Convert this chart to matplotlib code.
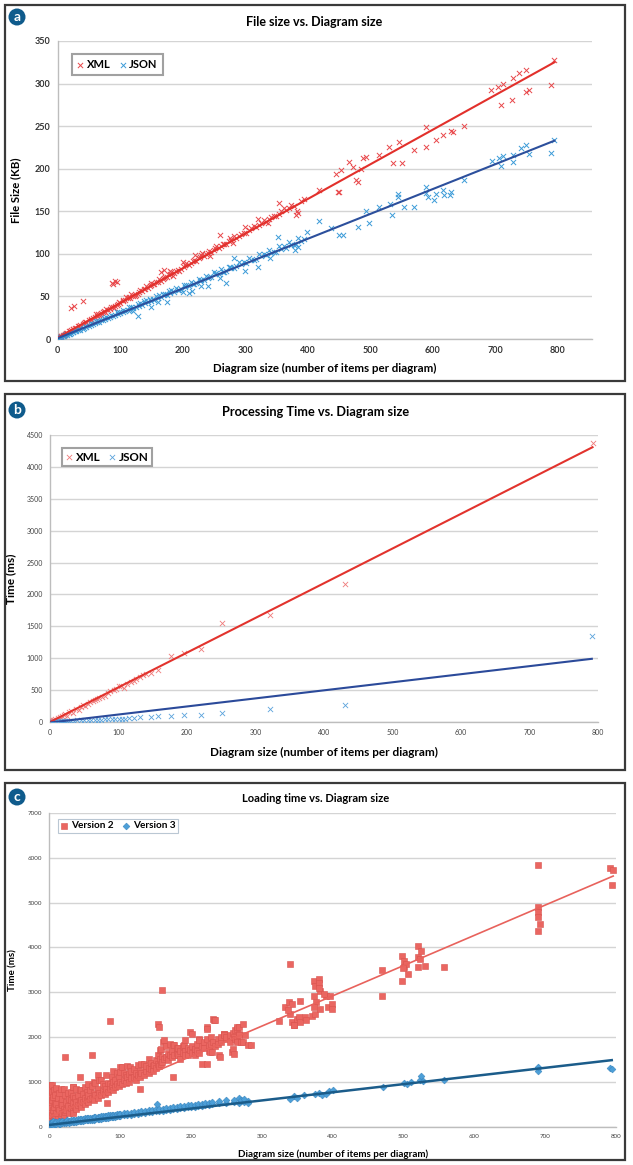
import numpy as np
import matplotlib
matplotlib.use('Agg')
from matplotlib import pyplot as plt
from matplotlib.patches import Rectangle

plt.rcParams['font.family'] = ['Lato', 'DejaVu Sans']

W, H = 633, 1165

# ---- (a) file size vs diagram size: (items, KB) ----
xml_size = [
    (2, 1.8), (4, 2.9), (6, 3.4), (8, 4.6), (10, 5.1), (12, 6.3), (15, 7.0), (18, 8.9), (20, 9.4), (22, 10.6),
    (25, 11.2), (28, 12.9), (30, 13.1), (33, 14.8), (36, 16.2), (40, 17.1), (43, 19.0), (46, 19.8), (50, 21.9), (53, 22.4),
    (56, 24.6), (60, 25.3), (63, 27.4), (66, 28.1), (70, 30.2), (73, 31.5), (76, 32.1), (80, 34.6), (84, 35.2), (88, 37.9),
    (92, 38.3), (96, 41.0), (100, 42.2), (104, 44.1), (108, 45.3), (112, 47.6), (116, 48.2), (120, 51.0), (125, 52.1), (130, 55.3),
    (135, 56.4), (140, 59.2), (145, 60.1), (150, 63.5), (155, 64.2), (160, 67.3), (165, 68.0), (170, 71.6), (175, 72.4), (180, 76.1),
    (186, 77.5), (192, 81.2), (198, 82.0), (204, 86.4), (210, 87.1), (216, 91.3), (222, 92.0), (228, 96.2), (234, 97.4), (240, 101.0),
    (246, 102.1), (252, 106.4), (258, 107.2), (264, 111.5), (270, 112.0), (278, 116.8), (286, 118.2), (294, 123.5), (302, 124.9), (310, 130.1),
    (318, 131.0), (326, 136.2), (334, 137.5), (342, 143.0), (350, 144.2), (358, 150.3), (366, 151.0), (374, 157.2), (382, 146.0), (390, 162.0),
    (5, 3.5), (14, 7.2), (24, 11.8), (34, 15.1), (44, 19.5), (54, 23.9), (64, 28.8), (74, 32.9), (85, 37.4), (95, 40.1),
    (105, 45.8), (115, 49.9), (128, 53.4), (138, 58.9), (148, 62.0), (158, 66.9), (168, 70.2), (178, 75.0), (190, 79.6), (202, 84.9),
    (214, 89.1), (226, 95.0), (238, 99.8), (250, 104.9), (262, 109.0), (274, 115.3), (290, 121.0), (306, 127.9), (322, 134.2), (338, 141.1),
    (354, 147.0), (370, 154.0), (385, 148.5), (395, 165.0),
    (62, 29.5), (78, 35.5), (98, 43.9), (118, 52.8), (132, 57.0), (142, 62.8), (152, 65.0), (162, 70.9), (172, 73.0), (182, 78.9),
    (194, 80.0), (206, 89.5), (218, 92.5), (230, 98.9), (242, 103.5), (254, 108.9), (266, 112.0), (276, 118.5), (282, 120.9), (298, 125.0),
    (314, 132.5), (330, 139.9), (346, 145.0), (362, 153.9), (378, 156.0), (70, 27.9), (90, 36.0), (124, 50.0), (184, 74.0), (244, 98.0),
    (280, 113.0), (336, 136.0),
    (110, 49.0), (150, 66.0), (180, 80.0), (200, 90.0), (220, 99.0), (231, 101.0), (260, 122.0), (300, 132.0), (320, 141.0), (354, 160.0),
    (383, 150.0), (165, 78.5), (170, 80.5),
    (21, 36), (27, 39), (41, 45), (87, 66), (92, 68), (95, 67), (89, 65),
    (419, 175), (445, 194), (449, 173), (451, 173), (454, 198), (467, 208), (472, 202), (478, 187), (480, 184), (486, 200),
    (488, 212), (494, 214), (515, 216), (531, 225), (536, 207), (547, 231), (551, 207), (571, 222), (589, 249), (590, 226),
    (606, 234), (616, 240), (630, 244), (632, 243), (651, 250), (694, 292), (704, 296), (710, 275), (712, 300), (727, 281),
    (728, 307), (739, 312), (749, 290), (750, 316), (755, 292), (790, 298), (795, 328),
]
json_size = [
    (2, 1.2), (4, 1.9), (6, 2.3), (8, 3.1), (10, 3.6), (12, 4.2), (15, 5.0), (18, 6.1), (20, 6.4), (22, 7.3),
    (25, 7.9), (28, 9.0), (30, 9.2), (33, 10.4), (36, 11.1), (40, 12.2), (43, 13.5), (46, 14.0), (50, 15.6), (53, 16.2),
    (56, 17.5), (60, 18.3), (63, 19.8), (66, 20.1), (70, 21.9), (73, 22.4), (76, 23.5), (80, 24.6), (84, 25.4), (88, 27.1),
    (92, 27.9), (96, 29.5), (100, 30.2), (104, 31.8), (108, 32.4), (112, 34.1), (116, 34.6), (120, 36.3), (125, 37.5), (130, 39.2),
    (135, 40.1), (140, 42.3), (145, 43.0), (150, 45.2), (155, 46.1), (160, 48.3), (165, 49.0), (170, 51.2), (175, 52.0), (180, 54.1),
    (186, 55.3), (192, 57.8), (198, 58.6), (204, 61.4), (210, 62.3), (216, 64.8), (222, 65.5), (228, 68.4), (234, 69.1), (240, 72.0),
    (246, 72.8), (252, 75.9), (258, 76.5), (264, 79.2), (270, 80.1), (278, 83.0), (286, 85.2), (294, 88.1), (302, 89.0), (310, 92.5),
    (318, 93.4), (326, 97.0), (334, 98.1), (342, 101.5), (350, 102.4), (358, 106.0), (366, 107.1), (374, 110.8), (382, 112.0), (390, 115.2),
    (5, 2.9), (14, 5.3), (24, 8.5), (34, 11.8), (44, 15.2), (54, 18.6), (64, 21.0), (74, 24.4), (85, 27.9), (95, 31.5),
    (105, 34.6), (115, 37.2), (128, 40.8), (138, 44.5), (148, 47.0), (158, 50.3), (168, 53.4), (178, 56.8), (190, 60.2), (202, 63.1),
    (214, 67.3), (226, 70.1), (238, 74.2), (250, 78.4), (262, 82.0), (274, 85.1), (290, 90.3), (306, 95.2), (322, 99.8), (338, 104.6),
    (354, 109.1), (370, 114.5), (385, 119.0), (395, 117.2),
    (62, 20.8), (78, 25.6), (98, 31.8), (118, 37.5), (132, 41.9), (142, 45.3), (152, 46.4), (162, 51.5), (172, 52.5), (182, 57.1),
    (194, 58.0), (206, 63.8), (218, 65.1), (230, 69.8), (242, 72.5), (254, 77.8), (266, 79.0), (276, 84.4), (282, 83.0), (298, 90.8),
    (314, 93.0), (330, 99.5), (346, 102.0), (362, 109.0), (378, 110.0), (120, 33.0), (160, 44.0), (200, 55.0), (230, 62.0), (260, 72.0),
    (340, 95.0),
    (150, 38), (175, 44), (211, 54), (215, 56), (240, 62), (270, 66), (300, 80), (320, 85), (380, 105), (385, 108), (129, 26.5),
    (283, 95), (352, 120), (399, 126), (418, 139), (438, 130), (450, 122), (457, 122), (480, 131), (493, 150), (499, 136),
    (515, 155), (532, 159), (535, 146), (544, 167), (545, 170), (554, 155), (570, 155), (589, 179), (590, 172), (593, 167),
    (603, 163), (606, 170), (616, 175), (619, 169), (628, 169), (630, 173), (651, 187), (695, 209), (706, 212), (710, 203),
    (712, 215), (728, 216), (728, 208), (742, 224), (750, 228), (755, 217), (790, 218), (795, 234),
]
size_trend_xml = (0.407, 1.5)    # slope, intercept
size_trend_json = (0.292, 0.8)

# ---- (b) processing time vs diagram size: (items, ms) ----
xml_time_x = [1, 2, 3, 4, 5, 6, 8, 10, 12, 14, 16, 18, 20, 22, 25, 28, 30, 34, 38, 43, 45, 48, 51, 55, 58, 63, 66, 68,
              72, 76, 81, 85, 88, 93, 96, 101, 104, 108, 112, 118, 122, 126, 131, 136, 140, 147, 158, 176, 195, 220,
              251, 321, 430, 792]
xml_time_ms = [5, 15, 12, 10, 25, 30, 45, 36, 60, 75, 62, 95, 110, 120, 88, 150, 165, 140, 210, 192, 235, 260, 244, 290,
               310, 322, 345, 360, 374, 395, 400, 460, 480, 504, 520, 567, 560, 540, 600, 630, 645, 680, 702, 730, 745,
               764, 816, 1034, 1086, 1138, 1559, 1674, 2167, 4380]
json_time_x = [1, 2, 3, 4, 5, 6, 8, 10, 12, 14, 16, 18, 20, 22, 25, 28, 30, 35, 40, 45, 50, 55, 60, 65, 70, 75, 80, 85,
               90, 95, 100, 105, 110, 115, 122, 131, 147, 158, 176, 195, 220, 251, 321, 430, 791]
json_time_ms = [2, 3, 5, 4, 5, 6, 8, 7, 10, 9, 12, 11, 15, 13, 17, 16, 20, 22, 24, 27, 29, 31, 33, 35, 37, 39, 41, 43,
                45, 47, 49, 51, 53, 56, 62, 78, 78, 88, 99, 104, 114, 140, 208, 270, 1346]
time_trend_xml = (5.44, 0.0)
time_trend_json = (1.264, -9.0)

# ---- (c) loading time vs diagram size: (items, ms) ----
v2_load = [
    (1, 150), (1, 420), (1, 700), (1, 930), (2, 300), (2, 815), (2, 560), (3, 250), (3, 600), (3, 926), (3, 778),
    (5, 120), (5, 380), (5, 667), (7, 450), (7, 220), (7, 820), (8, 200), (8, 700), (8, 540), (10, 300), (10, 500),
    (10, 860), (12, 180), (12, 640), (12, 420), (14, 380), (14, 760), (16, 260), (16, 852), (16, 520), (18, 300),
    (18, 620), (18, 480), (20, 400), (20, 852), (20, 250), (22, 1556), (22, 330), (22, 700), (24, 560), (24, 380),
    (26, 460), (26, 760), (28, 300), (28, 620), (30, 420), (30, 600), (30, 780), (33, 889), (33, 350), (33, 520),
    (34, 296), (34, 889), (34, 680), (36, 450), (36, 650), (38, 400), (38, 560), (38, 850), (40, 480), (40, 700),
    (43, 520), (43, 1111), (43, 820), (45, 815), (45, 450), (45, 600), (48, 560), (48, 720), (50, 500), (50, 650),
    (50, 880), (53, 600), (53, 780), (55, 560), (55, 700), (55, 950), (58, 620), (58, 820), (60, 1593), (60, 650),
    (60, 900), (63, 600), (63, 760), (63, 1000), (65, 700), (65, 980), (68, 650), (68, 850), (69, 1148), (70, 760),
    (70, 1050), (73, 1037), (73, 700), (75, 800), (75, 950), (78, 720), (78, 900), (80, 840), (80, 1150), (81, 519),
    (83, 780), (83, 980), (86, 963), (86, 2356), (86, 850), (88, 900), (88, 1100), (90, 820), (90, 1000), (90, 1250),
    (93, 880), (93, 1050), (95, 950), (95, 1200), (98, 900), (98, 1100), (100, 1000), (100, 1333), (100, 1222),
    (102, 1333), (102, 950), (105, 1050), (105, 1200), (108, 980), (108, 1150), (110, 1100), (110, 1350), (113, 1185),
    (113, 1000), (114, 1333), (115, 1080), (115, 1250), (119, 1296), (119, 1120), (122, 1050), (122, 1200), (125, 1150),
    (125, 1380), (128, 852), (128, 1250), (128, 1100), (130, 1200), (130, 1400), (133, 1407), (133, 1150), (136, 1250),
    (136, 1350), (140, 1200), (140, 1300), (140, 1500), (143, 1280), (143, 1420), (146, 1350), (146, 1250), (147, 1370),
    (150, 1481), (150, 1300), (153, 1400), (153, 1600), (154, 2296), (155, 2215), (155, 1350), (156, 1518), (156, 1704),
    (157, 1741), (157, 1400), (159, 3052), (159, 1556), (159, 1450), (161, 1889), (162, 1926), (162, 1500), (165, 1550),
    (165, 1800), (168, 1481), (168, 1650), (170, 1600), (170, 1850), (173, 1550), (173, 1700), (175, 1815), (175, 1111),
    (176, 1815), (176, 1600), (180, 1650), (180, 1750), (182, 1756), (182, 1600), (185, 1700), (185, 1500), (188, 1650),
    (188, 1800), (190, 1815), (191, 1926), (191, 1700), (192, 1593), (195, 1750), (195, 1600), (199, 2111), (199, 1720),
    (201, 2074), (202, 1650), (202, 1800), (205, 1741), (205, 1600), (206, 1741), (208, 1850), (208, 1700), (211, 1963),
    (211, 1926), (211, 1650), (215, 1800), (215, 1407), (218, 1750), (218, 1900), (222, 2222), (222, 1963), (222, 2185),
    (223, 1407), (225, 1800), (225, 1700), (227, 1667), (228, 2000), (228, 1850), (230, 1667), (231, 1900), (231, 2407),
    (232, 2385), (234, 2385), (234, 1800), (238, 1950), (238, 1850), (239, 1593), (241, 1556), (242, 1900), (242, 2000),
    (246, 2074), (246, 2059), (246, 2037), (250, 1950), (250, 2000), (255, 2050), (255, 1900), (258, 1667), (259, 1741),
    (259, 2100), (260, 2000), (260, 1630), (262, 1950), (262, 2150), (265, 1926), (265, 2185), (265, 2222), (265, 1889),
    (267, 2074), (268, 2222), (268, 2037), (270, 1900), (273, 1889), (274, 2281), (276, 2050), (281, 1815), (285, 1815),
    (324, 2356), (333, 2667), (338, 2778), (340, 3630), (340, 2518), (342, 2333), (342, 2741), (337, 2600), (345, 2259),
    (346, 2259), (349, 2407), (352, 2444), (354, 2800), (354, 2333), (361, 2444), (362, 2370), (371, 2481), (373, 3259),
    (375, 3148), (373, 2926), (377, 2778), (382, 3037), (375, 2518), (382, 2630), (391, 2926), (396, 2926), (394, 2667),
    (373, 2667), (380, 3300), (380, 3200), (380, 3100), (388, 2963), (399, 2741), (399, 2630), (470, 3496), (470, 2926),
    (498, 3815), (500, 3704), (498, 3259), (507, 3407), (501, 3556), (521, 4037), (521, 3778), (521, 3556), (525, 3930),
    (523, 3738), (504, 3640), (499, 3550), (531, 3593), (557, 3570), (690, 5833), (690, 4900), (690, 4800), (690, 4680),
    (692, 4527), (690, 4371), (792, 5780), (796, 5720), (794, 5384),
]
v3_load = [
    (1, 40), (1, 60), (1, 90), (3, 50), (3, 100), (5, 45), (5, 80), (5, 130), (8, 55), (8, 95), (10, 60), (10, 110),
    (13, 70), (13, 120), (15, 65), (15, 100), (18, 75), (18, 125), (20, 80), (20, 110), (23, 85), (23, 130), (25, 95),
    (25, 140), (28, 90), (28, 120), (30, 100), (30, 150), (33, 105), (33, 140), (35, 110), (35, 160), (38, 115),
    (38, 150), (40, 120), (40, 170), (43, 125), (43, 165), (45, 130), (45, 175), (48, 135), (48, 180), (50, 140),
    (50, 185), (53, 140), (53, 190), (55, 150), (55, 195), (58, 150), (58, 200), (60, 160), (60, 205), (63, 160),
    (63, 210), (65, 170), (65, 215), (68, 170), (68, 220), (70, 180), (70, 225), (73, 180), (73, 230), (75, 190),
    (75, 235), (78, 190), (78, 240), (80, 200), (80, 245), (83, 200), (83, 250), (85, 210), (85, 255), (88, 210),
    (88, 260), (90, 220), (90, 265), (93, 220), (93, 270), (95, 230), (95, 275), (98, 230), (98, 280), (100, 240),
    (100, 285), (105, 250), (105, 295), (110, 260), (110, 305), (115, 270), (115, 315), (120, 280), (120, 325),
    (125, 290), (125, 335), (130, 300), (130, 345), (135, 310), (135, 355), (140, 320), (140, 365), (145, 330),
    (145, 375), (150, 340), (150, 385), (152, 504), (155, 350), (155, 395), (160, 360), (160, 405), (165, 370),
    (165, 415), (170, 380), (170, 425), (175, 390), (175, 435), (180, 400), (180, 445), (185, 410), (185, 455),
    (190, 420), (190, 465), (195, 430), (195, 475), (200, 440), (200, 485), (205, 450), (205, 495), (210, 460),
    (210, 505), (215, 470), (215, 515), (220, 480), (220, 525), (225, 490), (225, 535), (230, 500), (230, 545),
    (240, 520), (240, 565), (250, 540), (250, 585), (260, 560), (260, 605), (267, 630), (267, 520), (270, 580),
    (270, 600), (275, 560), (275, 620), (280, 580), (280, 530),
    (340, 620), (345, 680), (350, 650), (360, 700), (375, 720), (380, 760), (385, 700), (390, 740), (395, 800),
    (400, 830), (471, 880), (500, 980), (505, 960), (510, 1000), (523, 1050), (525, 1130), (528, 1010), (557, 1050),
    (690, 1300), (690, 1250), (690, 1330), (792, 1310), (794, 1290),
]
load_trend_v2 = (6.75, 220.0)
load_trend_v3 = (1.82, 40.0)

xticks_800 = [0, 100, 200, 300, 400, 500, 600, 700, 800]


def px_axes(fig, left, top, right, bottom):
    ax = fig.add_axes([left / W, 1 - bottom / H, (right - left) / W, (bottom - top) / H])
    ax._px = (left, right)
    return ax


def frame(fig, top, bottom, letter, cy):
    fig.add_artist(Rectangle((5 / W, 1 - bottom / H), 620 / W, (bottom - top) / H,
                             transform=fig.transFigure, fill=False, ec='#3a3a3a', lw=1.6))
    fig.text(17 / W, 1 - cy / H, letter, ha='center', va='center', color='white',
             fontsize=10, fontweight='bold',
             bbox=dict(boxstyle='circle,pad=0.18', fc='#0f5b8c', ec='none'))


def base_style(ax, ticksize, tickbold, tickcolor):
    ax.grid(axis='y', color='#d4d4d4', lw=1.0)
    ax.set_axisbelow(True)
    for s in ['top', 'right']:
        ax.spines[s].set_visible(False)
    for s in ['left', 'bottom']:
        ax.spines[s].set_color('#bdbdbd')
        ax.spines[s].set_linewidth(1.0)
    ax.tick_params(length=0, labelsize=ticksize, colors=tickcolor, pad=5)
    for lab in ax.get_xticklabels() + ax.get_yticklabels():
        lab.set_fontweight('bold' if tickbold else 'normal')


def ylabel_at(ax, text, x_px, size):
    ax.set_ylabel(text, fontsize=size, fontweight='bold')
    left, right = ax._px
    ax.yaxis.set_label_coords((x_px - left) / (right - left), 0.5)


def trend(ax, pts_x, coef, color, lw):
    xs = np.array([0, max(pts_x)], dtype=float)
    ax.plot(xs, coef[0] * xs + coef[1], color=color, lw=lw, zorder=4)


fig = plt.figure(figsize=(W / 100, H / 100), dpi=100)

# ---------------- panel a ----------------
frame(fig, 5, 381, 'a', 17)
ax = px_axes(fig, 57.5, 41, 592, 339)
xa, ya = np.array(xml_size).T
xj, yj = np.array(json_size).T
ax.scatter(xa, ya, marker='x', s=14, lw=0.7, color='#e8474a', label='XML', zorder=3)
ax.scatter(xj, yj, marker='x', s=14, lw=0.7, color='#3b9bd8', label='JSON', zorder=3)
trend(ax, xa, size_trend_xml, '#e2302b', 1.5)
trend(ax, xj, size_trend_json, '#2c4f9c', 1.5)
ax.set_xlim(0, 855)
ax.set_ylim(0, 350)
ax.set_xticks(xticks_800)
ax.set_yticks(range(0, 351, 50))
base_style(ax, 6.5, True, '#333333')
ax.set_xlabel('Diagram size (number of items per diagram)', fontsize=8.3, fontweight='bold', labelpad=6)
ylabel_at(ax, 'File Size (KB)', 21, 8.2)
leg = ax.legend(loc='upper left', bbox_to_anchor=(0.016, 0.975), ncol=2, prop={'weight': 'bold', 'size': 8},
                frameon=True, fancybox=False, handlelength=0.6, handletextpad=0.3, columnspacing=0.8,
                borderpad=0.45)
leg.get_frame().set_edgecolor('#8a8a8a')
leg.get_frame().set_linewidth(1.5)
fig.text(314 / W, 1 - 22 / H, 'File size vs. Diagram size', ha='center', va='center', fontsize=9, fontweight='bold')

# ---------------- panel b ----------------
frame(fig, 394, 770, 'b', 410)
ax = px_axes(fig, 50, 435, 598, 722)
ax.scatter(xml_time_x, xml_time_ms, marker='x', s=14, lw=0.6, color='#ef7a7a', label='XML', zorder=3)
ax.scatter(json_time_x, json_time_ms, marker='x', s=14, lw=0.6, color='#5aa2dc', label='JSON', zorder=3)
trend(ax, xml_time_x, time_trend_xml, '#e2332d', 1.5)
trend(ax, json_time_x, time_trend_json, '#2b4a9a', 1.5)
ax.set_xlim(0, 800)
ax.set_ylim(0, 4500)
ax.set_xticks(xticks_800)
ax.set_yticks(range(0, 4501, 500))
base_style(ax, 5, False, '#444444')
ax.set_xlabel('Diagram size (number of items per diagram)', fontsize=8.5, fontweight='bold', labelpad=8)
ylabel_at(ax, 'Time (ms)', 16, 8.5)
leg = ax.legend(loc='upper left', bbox_to_anchor=(0.012, 0.975), ncol=2, prop={'weight': 'bold', 'size': 8.4},
                frameon=True, fancybox=False, handlelength=0.6, handletextpad=0.3, columnspacing=0.6,
                borderpad=0.3)
leg.get_frame().set_edgecolor('#8a8a8a')
leg.get_frame().set_linewidth(1.5)
fig.text(316 / W, 1 - 412 / H, 'Processing Time vs. Diagram size', ha='center', va='center', fontsize=9.2,
         fontweight='bold')

# ---------------- panel c ----------------
frame(fig, 783, 1160, 'c', 797)
ax = px_axes(fig, 49.4, 813, 616, 1126.7)
x2, y2 = np.array(v2_load).T
x3, y3 = np.array(v3_load).T
ax.scatter(x2, y2, marker='s', s=20, color='#ea6661', edgecolors='#d9534f', lw=0.4, label='Version 2', zorder=3)
ax.scatter(x3, y3, marker='D', s=12, color='#4c9fd8', edgecolors='#3a86c0', lw=0.4, label='Version 3', zorder=3)
trend(ax, x2, load_trend_v2, '#e8625c', 1.2)
trend(ax, x3, load_trend_v3, '#1b5c8a', 1.8)
ax.set_xlim(0, 800)
ax.set_ylim(0, 7000)
ax.set_xticks(xticks_800)
ax.set_yticks(range(0, 7001, 1000))
base_style(ax, 4.5, False, '#444444')
ax.set_xlabel('Diagram size (number of items per diagram)', fontsize=7.1, fontweight='bold', labelpad=8)
ylabel_at(ax, 'Time (ms)', 17, 7.1)
leg = ax.legend(loc='upper left', bbox_to_anchor=(0.006, 0.998), ncol=2, prop={'weight': 'bold', 'size': 7.2},
                frameon=True, fancybox=False, handlelength=0.8, handletextpad=0.3, columnspacing=0.8,
                borderpad=0.25)
leg.get_frame().set_edgecolor('#a9b9c9')
leg.get_frame().set_linewidth(0.8)
fig.text(316 / W, 1 - 798 / H, 'Loading time vs. Diagram size', ha='center', va='center', fontsize=8,
         fontweight='bold')

fig.savefig('out.png', dpi=100)
